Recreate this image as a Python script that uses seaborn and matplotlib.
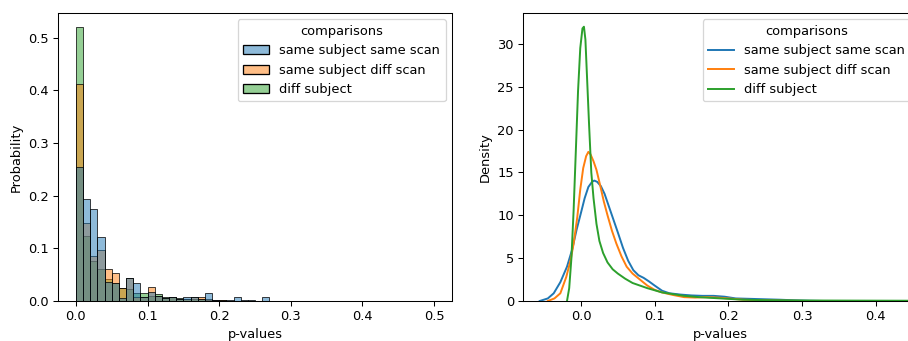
import numpy as np
import pandas as pd
import matplotlib
matplotlib.use("Agg")
import matplotlib.pyplot as plt
import seaborn as sns

# ---------------- data ----------------
categories = ["same subject same scan", "same subject diff scan", "diff subject"]
bin_width = 0.01
n_bins = 50
bin_range = (0.0, 0.5)

# histogram probabilities per 0.01 bin, starting at 0.00
prob_same_scan = [0.254, 0.193, 0.175, 0.122, 0.036, 0.035, 0.006, 0.043, 0.035, 0.008,
                  0.018, 0.010, 0.006, 0.008, 0.003, 0.008, 0.008, 0.004, 0.016, 0.001,
                  0.000, 0.001, 0.008, 0.001, 0.001, 0.000, 0.008]
prob_diff_scan = [0.4125, 0.148, 0.086, 0.096, 0.061, 0.053, 0.025, 0.043, 0.008, 0.008,
                  0.026, 0.010, 0.006, 0.008, 0.003, 0.004, 0.008, 0.007, 0.003, 0.002,
                  0.001]
prob_diff_subj = [0.520, 0.124, 0.076, 0.060, 0.041, 0.035, 0.025, 0.022, 0.016, 0.016,
                  0.009, 0.013, 0.008, 0.008, 0.005, 0.004, 0.004, 0.003, 0.002, 0.002,
                  0.001, 0.000, 0.000, 0.000, 0.000, 0.000, 0.000, 0.000, 0.000, 0.000,
                  0.000, 0.000, 0.000, 0.000, 0.000, 0.000, 0.000, 0.000, 0.000, 0.000,
                  0.000, 0.000, 0.000, 0.000, 0.000, 0.000, 0.000, 0.000, 0.000, 0.000]

# density curves (p-value, density)
kde_x_same_scan = [-0.056, -0.045, -0.037, -0.028, -0.019, -0.012, -0.006, 0.0, 0.005, 0.010,
                   0.015, 0.018, 0.022, 0.027, 0.032, 0.038, 0.044, 0.050, 0.057, 0.064,
                   0.071, 0.078, 0.085, 0.092, 0.100, 0.110, 0.120, 0.135, 0.150, 0.165,
                   0.180, 0.195, 0.21, 0.23, 0.25, 0.27, 0.29, 0.31, 0.33]
kde_y_same_scan = [0.0, 0.3, 0.9, 2.2, 4.0, 6.0, 8.3, 10.3, 12.0, 13.3,
                   13.9, 14.05, 13.9, 13.4, 12.5, 11.0, 9.5, 8.0, 6.2, 4.7,
                   3.6, 3.0, 2.7, 2.3, 1.8, 1.2, 0.9, 0.75, 0.65, 0.6,
                   0.6, 0.5, 0.3, 0.25, 0.2, 0.15, 0.08, 0.03, 0.0]
kde_x_diff_scan = [-0.045, -0.036, -0.028, -0.020, -0.014, -0.010, -0.005, -0.001, 0.003, 0.007,
                   0.010, 0.013, 0.017, 0.021, 0.026, 0.031, 0.036, 0.042, 0.048, 0.055,
                   0.062, 0.070, 0.080, 0.090, 0.100, 0.110, 0.125, 0.140, 0.155, 0.170,
                   0.185, 0.20, 0.22, 0.25, 0.28, 0.31]
kde_y_diff_scan = [0.0, 0.3, 0.9, 2.8, 4.8, 6.7, 9.8, 13.0, 15.5, 16.9,
                   17.4, 17.1, 16.3, 15.3, 13.5, 11.6, 10.0, 8.2, 6.7, 5.2,
                   4.0, 3.2, 2.5, 1.8, 1.3, 1.0, 0.7, 0.45, 0.4, 0.45,
                   0.4, 0.3, 0.15, 0.08, 0.03, 0.0]
kde_x_diff_subj = [-0.019, -0.016, -0.013, -0.010, -0.007, -0.004, -0.001, 0.002, 0.004, 0.006,
                   0.008, 0.011, 0.014, 0.017, 0.021, 0.025, 0.030, 0.036, 0.043, 0.050,
                   0.060, 0.070, 0.080, 0.090, 0.100, 0.110, 0.125, 0.140, 0.160, 0.180,
                   0.200, 0.22, 0.25, 0.30, 0.35, 0.40, 0.46]
kde_y_diff_subj = [0.0, 1.5, 5.0, 10.6, 17.5, 24.5, 29.5, 31.8, 32.0, 30.5,
                   26.5, 20.5, 15.0, 12.0, 9.0, 7.0, 5.6, 4.5, 3.7, 3.2,
                   2.6, 2.1, 1.8, 1.5, 1.25, 1.0, 0.8, 0.6, 0.45, 0.35,
                   0.25, 0.15, 0.1, 0.06, 0.05, 0.04, 0.03]

# ---------------- build tables ----------------
hist_rows = []
for cat, probs in zip(categories, [prob_same_scan, prob_diff_scan, prob_diff_subj]):
    for i, p in enumerate(probs):
        hist_rows.append({"p-values": bin_range[0] + i * bin_width + bin_width / 2,
                          "w": p, "comparisons": cat})
hist_df = pd.DataFrame(hist_rows)

kde_rows = []
for cat, xs, ys in zip(categories,
                       [kde_x_same_scan, kde_x_diff_scan, kde_x_diff_subj],
                       [kde_y_same_scan, kde_y_diff_scan, kde_y_diff_subj]):
    for x, y in zip(xs, ys):
        kde_rows.append({"p-values": x, "Density": y, "comparisons": cat})
kde_df = pd.DataFrame(kde_rows)

palette = dict(zip(categories, sns.color_palette("tab10", 3)))

# ---------------- figure ----------------
W, H = 908, 341
DPI = 93.5
fig = plt.figure(figsize=(W / DPI, H / DPI), dpi=DPI)
ax1 = fig.add_axes([58 / W, (H - 301) / H, (452 - 58) / W, (301 - 13) / H])
# right panel runs slightly past the right edge of the picture (as in the reference)
ax2 = fig.add_axes([523 / W, (H - 301) / H, (917 - 523) / W, (301 - 13) / H])

sns.histplot(data=hist_df, x="p-values", weights="w", hue="comparisons",
             hue_order=categories, palette=palette, bins=n_bins, binrange=bin_range,
             stat="count", common_norm=False, ax=ax1)
ax1.set_ylabel("Probability")
ax1.set_xlabel("p-values")
ax1.set_xlim(-0.025, 0.525)
ax1.set_ylim(0, 0.547)
sns.move_legend(ax1, "upper right")

sns.lineplot(data=kde_df, x="p-values", y="Density", hue="comparisons",
             hue_order=categories, palette=palette, linewidth=1.5,
             sort=True, estimator=None, ax=ax2)
ax2.set_xlim(-0.0787, 0.456)
ax2.set_ylim(0, 33.6)
ax2.set_xticks([0.0, 0.1, 0.2, 0.3, 0.4])
ax2.legend(title="comparisons", loc="upper right")

fig.savefig("out.png", dpi=DPI)
